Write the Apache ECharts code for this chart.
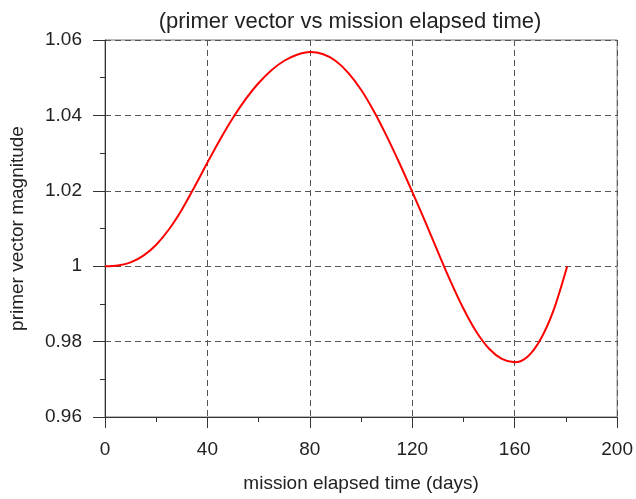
<!DOCTYPE html>
<html><head><meta charset="utf-8">
<script src="https://cdn.jsdelivr.net/npm/echarts@6/dist/echarts.min.js"></script>
<style>html,body{margin:0;padding:0;background:#fff}#c{width:636px;height:499px}</style>
</head><body><div id="c"></div>
<script>
const days = [0,5,10,15,20,25,30,35,40,45,50,55,60,65,70,75,80,85,90,95,100,105,110,115,120,125,130,135,140,145,150,155,160,165,170,175,180.5];
const magnitude = [1.0,1.0002,1.0010,1.0028,1.0057,1.0098,1.0150,1.0211,1.0275,1.0337,1.0394,1.0444,1.0486,1.0520,1.0545,1.0561,1.0568,1.0563,1.0545,1.0513,1.0468,1.0411,1.0345,1.0273,1.0197,1.0119,1.0038,0.9959,0.9887,0.9826,0.9781,0.9754,0.9745,0.9760,0.9805,0.9880,1.0];
const xTicks = [0,40,80,120,160,200];
const yTicks = [0.96,0.98,1,1.02,1.04,1.06];
const titleText = '(primer vector vs mission elapsed time)';
const xName = 'mission elapsed time (days)';
const yName = 'primer vector magnitude';

const font = '"Liberation Sans", Arial, sans-serif';
const chart = echarts.init(document.getElementById('c'), null, {renderer:'canvas'});
const grid = {left:104, right:16, top:40, bottom:82, show:true, borderColor:'#777', borderWidth:1};
const split = {show:true, lineStyle:{color:'#555', type:[6,4], width:1}};
chart.setOption({
  animation:false,
  title:{text:titleText, left:345, textAlign:'center', top:6, textStyle:{fontFamily:font, fontSize:22, fontWeight:'normal', color:'#222'}},
  grid:grid,
  xAxis:{type:'value', min:xTicks[0], max:xTicks[xTicks.length-1], interval:40,
    name:xName, nameLocation:'middle', nameGap:57, nameTextStyle:{fontFamily:font, fontSize:19, color:'#222'},
    axisLine:{show:true, onZero:false, lineStyle:{color:'#333', width:1}},
    axisTick:{show:true, length:11, lineStyle:{color:'#333'}},
    minorTick:{show:true, splitNumber:2, length:5, lineStyle:{color:'#333'}},
    axisLabel:{fontFamily:font, fontSize:19, color:'#222', margin:23},
    splitLine:split},
  yAxis:{type:'value', min:yTicks[0], max:yTicks[yTicks.length-1], interval:0.02,
    name:yName, nameLocation:'middle', nameGap:78, nameTextStyle:{fontFamily:font, fontSize:19, color:'#222'},
    axisLine:{show:true, onZero:false, lineStyle:{color:'#333', width:1}},
    axisTick:{show:true, length:12, lineStyle:{color:'#333'}},
    minorTick:{show:true, splitNumber:2, length:5, lineStyle:{color:'#333'}},
    axisLabel:{fontFamily:font, fontSize:19, color:'#222', margin:23, formatter:function(v){return String(+v.toFixed(2));}},
    splitLine:split},
  series:[{type:'line', data:days.map((d,i)=>[d,magnitude[i]]), smooth:0.3, showSymbol:false,
    lineStyle:{color:'#ff0000', width:2}}]
});
</script></body></html>
